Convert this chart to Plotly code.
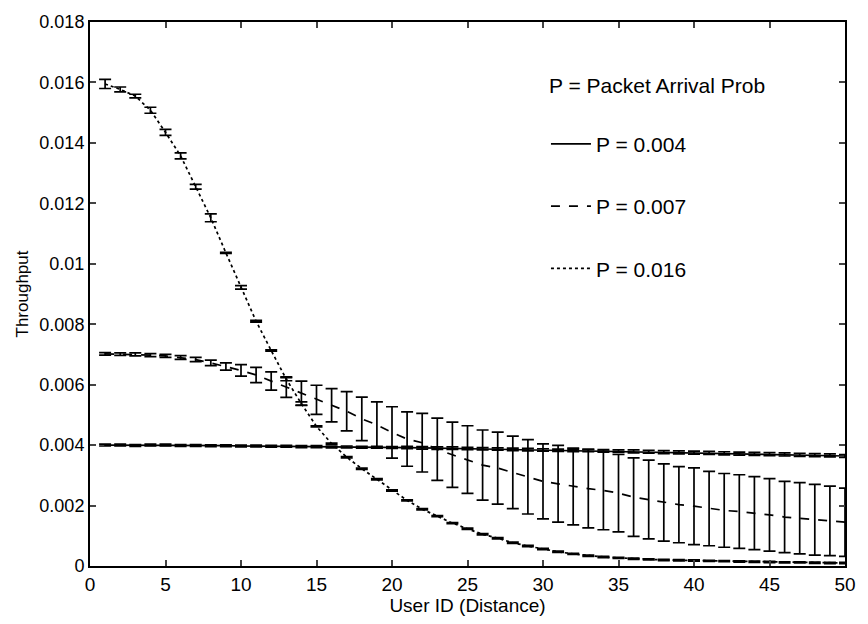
import plotly.graph_objects as go

user_id = list(range(1, 51))

p004 = [0.00400, 0.00400, 0.00399, 0.00400, 0.00400, 0.00399, 0.00399, 0.00398, 0.00398, 0.00397,
        0.00397, 0.00396, 0.00396, 0.00395, 0.00395, 0.00394, 0.00394, 0.00393, 0.00393, 0.00392,
        0.00392, 0.00391, 0.00390, 0.00390, 0.00389, 0.00388, 0.00387, 0.00386, 0.00385, 0.00384,
        0.00383, 0.00382, 0.00382, 0.00381, 0.00380, 0.00379, 0.00378, 0.00377, 0.00376, 0.00375,
        0.00374, 0.00373, 0.00372, 0.00371, 0.00370, 0.00369, 0.00368, 0.00367, 0.00366, 0.00364]
err004 = [0.00003] * 20 + [0.00004] * 15 + [0.00005] * 15

p007 = [0.00702, 0.00701, 0.00700, 0.00698, 0.00695, 0.00690, 0.00683, 0.00672, 0.00660, 0.00647,
        0.00632, 0.00612, 0.00592, 0.00572, 0.00550, 0.00532, 0.00512, 0.00487, 0.00467, 0.00442,
        0.00420, 0.00408, 0.00386, 0.00368, 0.00352, 0.00334, 0.00324, 0.00310, 0.00295, 0.00280,
        0.00272, 0.00263, 0.00256, 0.00250, 0.00241, 0.00228, 0.00220, 0.00210, 0.00203, 0.00198,
        0.00190, 0.00184, 0.00180, 0.00175, 0.00169, 0.00162, 0.00158, 0.00153, 0.00149, 0.00145]
err007 = [0.00004, 0.00004, 0.00005, 0.00005, 0.00005, 0.00006, 0.00007, 0.00009, 0.00012, 0.00019,
          0.00025, 0.00030, 0.00034, 0.00040, 0.00048, 0.00055, 0.00065, 0.00072, 0.00076, 0.00085,
          0.00090, 0.00097, 0.00103, 0.00108, 0.00112, 0.00116, 0.00119, 0.00120, 0.00123, 0.00124,
          0.00127, 0.00127, 0.00130, 0.00130, 0.00128, 0.00130, 0.00130, 0.00128, 0.00126, 0.00127,
          0.00123, 0.00122, 0.00122, 0.00121, 0.00120, 0.00118, 0.00118, 0.00117, 0.00115, 0.00113]

p016 = [0.01595, 0.01577, 0.01555, 0.01508, 0.01435, 0.01357, 0.01255, 0.01152, 0.01036, 0.00922,
        0.00810, 0.00713, 0.00618, 0.00537, 0.00462, 0.00405, 0.00360, 0.00322, 0.00287, 0.00250,
        0.00217, 0.00188, 0.00165, 0.00142, 0.00123, 0.00105, 0.00092, 0.00077, 0.00066, 0.00056,
        0.00047, 0.00040, 0.00034, 0.00030, 0.00027, 0.00024, 0.00022, 0.00020, 0.00019, 0.00018,
        0.00017, 0.00016, 0.00015, 0.00014, 0.00013, 0.00012, 0.00012, 0.00011, 0.00010, 0.00010]
err016 = [0.00015, 0.00008, 0.00006, 0.00010, 0.00010, 0.00010, 0.00008, 0.00013, 0.00002, 0.00006,
          0.00003, 0.00002, 0.00005, 0.00006] + [0.00002] * 36

series_names = ["P = 0.004", "P = 0.007", "P = 0.016"]
legend_title = "P = Packet Arrival Prob"
x_ticks = list(range(0, 51, 5))
y_tickvals = [0, 0.002, 0.004, 0.006, 0.008, 0.01, 0.012, 0.014, 0.016, 0.018]
y_ticktext = ["0", "0.002", "0.004", "0.006", "0.008", "0.01", "0.012", "0.014", "0.016", "0.018"]

FONT = "Liberation Sans, Arial, Helvetica, sans-serif"

fig = go.Figure()
styles = ["solid", "dash", "dot"]
for i, (vals, errs) in enumerate([(p004, err004), (p007, err007), (p016, err016)]):
    fig.add_trace(go.Scatter(
        x=user_id, y=vals, mode="lines", name=series_names[i],
        legendgroup=f"g{i}",
        line=dict(color="black", width=1.7, dash=styles[i]),
        error_y=dict(type="data", array=errs, visible=True, color="black",
                     thickness=1.7, width=6),
    ))

fig.add_annotation(text=legend_title, xref="paper", yref="paper",
                   x=(553 - 90) / 765, y=(570 - 83) / 551, xanchor="left", yanchor="middle",
                   showarrow=False, font=dict(size=21, color="black", family=FONT))

fig.update_layout(
    width=868, height=624,
    margin=dict(l=90, r=13, t=19, b=54),
    paper_bgcolor="white", plot_bgcolor="white",
    font=dict(family=FONT, color="black", size=18),
    showlegend=True,
    legend=dict(x=(552 - 90) / 765, y=(570 - 122) / 551, xanchor="left", yanchor="top",
                bgcolor="rgba(0,0,0,0)", font=dict(size=21), tracegroupgap=32,
                itemwidth=40),
    xaxis=dict(range=[0, 50], tickvals=x_ticks, ticks="inside", ticklen=6, tickwidth=1.5,
               showline=True, linecolor="black", linewidth=2, mirror="ticks",
               showgrid=False, zeroline=False, tickfont=dict(size=19),
               title=dict(text="User ID (Distance)", font=dict(size=19), standoff=4)),
    yaxis=dict(range=[0, 0.018], tickvals=y_tickvals, ticktext=y_ticktext, ticks="inside",
               ticklen=6, tickwidth=1.5,
               showline=True, linecolor="black", linewidth=2, mirror="ticks",
               showgrid=False, zeroline=False, tickfont=dict(size=18),
               title=dict(text="Throughput", font=dict(size=17), standoff=6)),
)

fig.write_html("out.html")
